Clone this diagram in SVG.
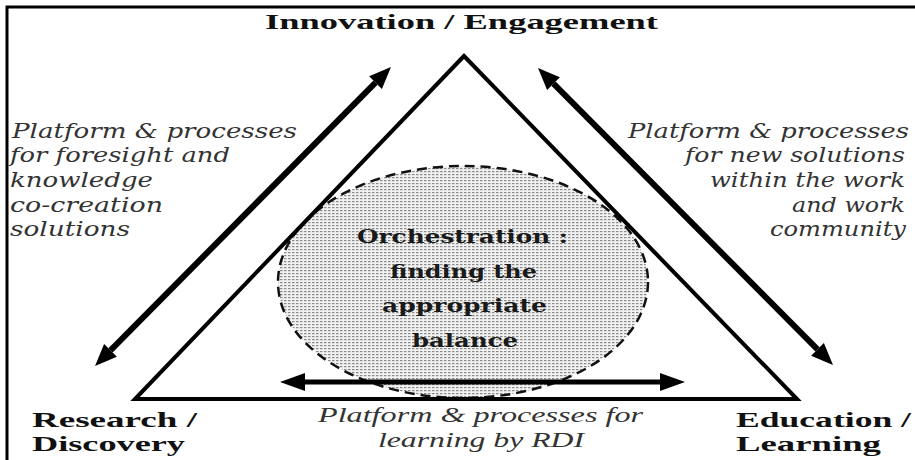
<svg xmlns="http://www.w3.org/2000/svg" width="915" height="460" viewBox="0 0 915 460">
  <style>
    .frame { fill: none; stroke: #000; stroke-width: 3; }
    .tri { fill: none; stroke: #000; stroke-width: 4; stroke-linejoin: miter; }
    .arr { fill: none; stroke: #000; stroke-width: 6; }
    .arrh { fill: none; stroke: #000; stroke-width: 5; }
    .orb { fill: url(#dots); stroke: #111; stroke-width: 2.5; stroke-dasharray: 10 6; }
    .lbl { font-family: "Liberation Serif", "Times New Roman", serif; font-weight: bold; font-size: 22px; fill: #111; }
    .ctr { font-family: "DejaVu Serif", "Liberation Serif", serif; font-weight: bold; font-size: 18px; fill: #1a1a1a; }
    .side { font-family: "DejaVu Serif", "Liberation Serif", serif; font-style: italic; font-size: 21px; fill: #333; }
    .bot { font-family: "Liberation Serif", "Times New Roman", serif; font-style: italic; font-size: 21px; fill: #333; }
  </style>
  <defs>
    <pattern id="dots" width="4" height="3" patternUnits="userSpaceOnUse">
      <rect width="4" height="3" fill="#f2f2f2"/>
      <rect x="0" y="0" width="2.5" height="1.2" fill="#8a8a8a"/>
    </pattern>
    <marker id="head" viewBox="0 -10 24 20" refX="0" refY="0" markerWidth="24" markerHeight="20" markerUnits="userSpaceOnUse" orient="auto-start-reverse">
      <path d="M0,-9 L22,0 L0,9 Z" fill="#000"/>
    </marker>
    <marker id="headH" viewBox="0 -10 28 20" refX="0" refY="0" markerWidth="28" markerHeight="20" markerUnits="userSpaceOnUse" orient="auto-start-reverse">
      <path d="M0,-9 L25,0 L0,9 Z" fill="#000"/>
    </marker>
  </defs>

  <g id="frame">
    <path class="frame" d="M7,460 L7,7 L915,7"/>
  </g>

  <g id="orchestration">
    <ellipse class="orb" cx="463" cy="282" rx="185" ry="116"/>
    <text class="ctr" x="357" y="243" textLength="211" lengthAdjust="spacingAndGlyphs">Orchestration :</text>
    <text class="ctr" x="390" y="278" textLength="147" lengthAdjust="spacingAndGlyphs">finding the</text>
    <text class="ctr" x="382" y="312" textLength="165" lengthAdjust="spacingAndGlyphs">appropriate</text>
    <text class="ctr" x="412" y="347" textLength="106" lengthAdjust="spacingAndGlyphs">balance</text>
  </g>

  <g id="triangle">
    <path class="tri" d="M464,56 L797,399 L135,399 Z"/>
  </g>

  <g id="connectors">
    <line class="arr" x1="110.5" y1="350.4" x2="375.5" y2="82.6" marker-start="url(#head)" marker-end="url(#head)"/>
    <line class="arr" x1="553.5" y1="83.6" x2="817.5" y2="349.4" marker-start="url(#head)" marker-end="url(#head)"/>
    <line class="arrh" x1="305" y1="382" x2="660" y2="382" marker-start="url(#headH)" marker-end="url(#headH)"/>
  </g>

  <g id="innovation">
    <text class="lbl" x="265" y="29" textLength="393" lengthAdjust="spacingAndGlyphs">Innovation / Engagement</text>
  </g>

  <g id="research">
    <text class="lbl" x="32" y="427" textLength="165" lengthAdjust="spacingAndGlyphs">Research /</text>
    <text class="lbl" x="32" y="451" textLength="153" lengthAdjust="spacingAndGlyphs">Discovery</text>
  </g>

  <g id="education">
    <text class="lbl" x="736" y="427" textLength="175" lengthAdjust="spacingAndGlyphs">Education /</text>
    <text class="lbl" x="736" y="451" textLength="145" lengthAdjust="spacingAndGlyphs">Learning</text>
  </g>

  <g id="label-left">
    <text class="side" x="12" y="138" textLength="285" lengthAdjust="spacingAndGlyphs">Platform &amp; processes</text>
    <text class="side" x="10" y="162" textLength="220" lengthAdjust="spacingAndGlyphs">for foresight and</text>
    <text class="side" x="10" y="187" textLength="143" lengthAdjust="spacingAndGlyphs">knowledge</text>
    <text class="side" x="10" y="212" textLength="153" lengthAdjust="spacingAndGlyphs">co-creation</text>
    <text class="side" x="10" y="236" textLength="120" lengthAdjust="spacingAndGlyphs">solutions</text>
  </g>

  <g id="label-right">
    <text class="side" x="628" y="138" textLength="281" lengthAdjust="spacingAndGlyphs">Platform &amp; processes</text>
    <text class="side" x="685" y="162" textLength="220" lengthAdjust="spacingAndGlyphs">for new solutions</text>
    <text class="side" x="710" y="187" textLength="195" lengthAdjust="spacingAndGlyphs">within the work</text>
    <text class="side" x="792" y="212" textLength="113" lengthAdjust="spacingAndGlyphs">and work</text>
    <text class="side" x="770" y="236" textLength="136" lengthAdjust="spacingAndGlyphs">community</text>
  </g>

  <g id="label-bottom">
    <text class="bot" x="318" y="422" textLength="325" lengthAdjust="spacingAndGlyphs">Platform &amp; processes for</text>
    <text class="bot" x="378" y="447" textLength="206" lengthAdjust="spacingAndGlyphs">learning by RDI</text>
  </g>
</svg>
